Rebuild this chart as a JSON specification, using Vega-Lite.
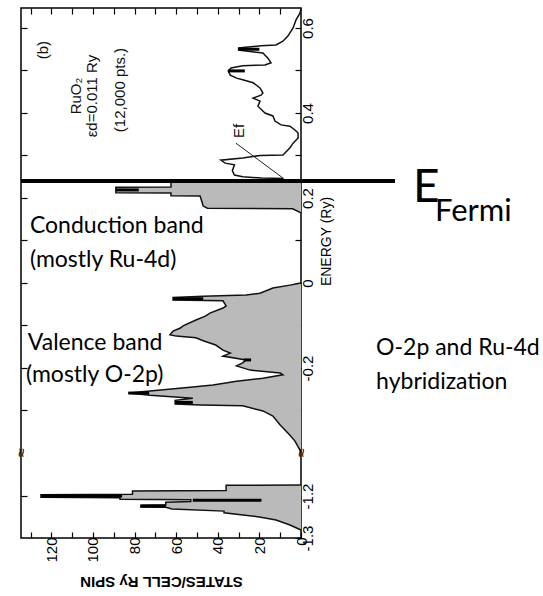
{
  "$schema": "https://vega.github.io/schema/vega-lite/v6.json",
  "width": 280,
  "height": 530,
  "padding": {"left": 13, "top": 5, "right": 0, "bottom": 4},
  "background": "white",
  "config": {"view": {"stroke": "black", "strokeWidth": 1.5}, "font": "Liberation Sans"},
  "datasets": {
    "dos": [
      {"band": "upper", "energy": 0.240, "states": 8.7},
      {"band": "upper", "energy": 0.246, "states": 8.7},
      {"band": "upper", "energy": 0.247, "states": 19},
      {"band": "upper", "energy": 0.250, "states": 28},
      {"band": "upper", "energy": 0.254, "states": 32},
      {"band": "upper", "energy": 0.264, "states": 33},
      {"band": "upper", "energy": 0.278, "states": 32},
      {"band": "upper", "energy": 0.282, "states": 36.5},
      {"band": "upper", "energy": 0.289, "states": 38.5},
      {"band": "upper", "energy": 0.294, "states": 28},
      {"band": "upper", "energy": 0.300, "states": 19.7},
      {"band": "upper", "energy": 0.301, "states": 8.7},
      {"band": "upper", "energy": 0.306, "states": 7.7},
      {"band": "upper", "energy": 0.318, "states": 5.3},
      {"band": "upper", "energy": 0.329, "states": 3.8},
      {"band": "upper", "energy": 0.341, "states": 1.4},
      {"band": "upper", "energy": 0.353, "states": 1.4},
      {"band": "upper", "energy": 0.360, "states": 2.9},
      {"band": "upper", "energy": 0.369, "states": 5.3},
      {"band": "upper", "energy": 0.372, "states": 9.6},
      {"band": "upper", "energy": 0.381, "states": 12.5},
      {"band": "upper", "energy": 0.393, "states": 13.5},
      {"band": "upper", "energy": 0.400, "states": 17.3},
      {"band": "upper", "energy": 0.416, "states": 20.7},
      {"band": "upper", "energy": 0.428, "states": 19.7},
      {"band": "upper", "energy": 0.435, "states": 23},
      {"band": "upper", "energy": 0.442, "states": 19.2},
      {"band": "upper", "energy": 0.447, "states": 18.3},
      {"band": "upper", "energy": 0.459, "states": 19.7},
      {"band": "upper", "energy": 0.471, "states": 23},
      {"band": "upper", "energy": 0.478, "states": 28},
      {"band": "upper", "energy": 0.482, "states": 31},
      {"band": "upper", "energy": 0.489, "states": 34},
      {"band": "upper", "energy": 0.499, "states": 35},
      {"band": "upper", "energy": 0.506, "states": 33.6},
      {"band": "upper", "energy": 0.511, "states": 28},
      {"band": "upper", "energy": 0.513, "states": 17.3},
      {"band": "upper", "energy": 0.518, "states": 14.4},
      {"band": "upper", "energy": 0.529, "states": 15.9},
      {"band": "upper", "energy": 0.541, "states": 18.3},
      {"band": "upper", "energy": 0.548, "states": 30},
      {"band": "upper", "energy": 0.553, "states": 30},
      {"band": "upper", "energy": 0.558, "states": 19.2},
      {"band": "upper", "energy": 0.560, "states": 12},
      {"band": "upper", "energy": 0.569, "states": 8.7},
      {"band": "upper", "energy": 0.581, "states": 6.3},
      {"band": "upper", "energy": 0.600, "states": 3.8},
      {"band": "upper", "energy": 0.619, "states": 2.4},
      {"band": "upper", "energy": 0.635, "states": 0.5},
      {"band": "upper", "energy": 0.645, "states": 0},
      {"band": "conduction", "energy": 0.165, "states": 0},
      {"band": "conduction", "energy": 0.1745, "states": 4},
      {"band": "conduction", "energy": 0.176, "states": 45},
      {"band": "conduction", "energy": 0.181, "states": 47},
      {"band": "conduction", "energy": 0.2045, "states": 48.5},
      {"band": "conduction", "energy": 0.205, "states": 62.5},
      {"band": "conduction", "energy": 0.212, "states": 62.5},
      {"band": "conduction", "energy": 0.2125, "states": 89},
      {"band": "conduction", "energy": 0.2255, "states": 89},
      {"band": "conduction", "energy": 0.226, "states": 62.5},
      {"band": "conduction", "energy": 0.240, "states": 62.5},
      {"band": "valence", "energy": -0.398, "states": 0},
      {"band": "valence", "energy": -0.393, "states": 0.5},
      {"band": "valence", "energy": -0.372, "states": 2.9},
      {"band": "valence", "energy": -0.358, "states": 5.3},
      {"band": "valence", "energy": -0.334, "states": 10},
      {"band": "valence", "energy": -0.313, "states": 13.5},
      {"band": "valence", "energy": -0.301, "states": 18.3},
      {"band": "valence", "energy": -0.289, "states": 28},
      {"band": "valence", "energy": -0.287, "states": 48.5},
      {"band": "valence", "energy": -0.285, "states": 60.5},
      {"band": "valence", "energy": -0.276, "states": 60.5},
      {"band": "valence", "energy": -0.271, "states": 52},
      {"band": "valence", "energy": -0.264, "states": 72.6},
      {"band": "valence", "energy": -0.259, "states": 83},
      {"band": "valence", "energy": -0.254, "states": 72.6},
      {"band": "valence", "energy": -0.245, "states": 52},
      {"band": "valence", "energy": -0.240, "states": 42.3},
      {"band": "valence", "energy": -0.231, "states": 31},
      {"band": "valence", "energy": -0.224, "states": 18.3},
      {"band": "valence", "energy": -0.216, "states": 8.7},
      {"band": "valence", "energy": -0.212, "states": 10},
      {"band": "valence", "energy": -0.205, "states": 24.5},
      {"band": "valence", "energy": -0.195, "states": 31},
      {"band": "valence", "energy": -0.188, "states": 28},
      {"band": "valence", "energy": -0.181, "states": 26.4},
      {"band": "valence", "energy": -0.172, "states": 37.5},
      {"band": "valence", "energy": -0.165, "states": 34},
      {"band": "valence", "energy": -0.158, "states": 37.5},
      {"band": "valence", "energy": -0.146, "states": 41},
      {"band": "valence", "energy": -0.136, "states": 47},
      {"band": "valence", "energy": -0.129, "states": 50.5},
      {"band": "valence", "energy": -0.125, "states": 60},
      {"band": "valence", "energy": -0.122, "states": 63},
      {"band": "valence", "energy": -0.113, "states": 61.5},
      {"band": "valence", "energy": -0.106, "states": 58},
      {"band": "valence", "energy": -0.101, "states": 56.7},
      {"band": "valence", "energy": -0.087, "states": 50.5},
      {"band": "valence", "energy": -0.078, "states": 46},
      {"band": "valence", "energy": -0.071, "states": 43.8},
      {"band": "valence", "energy": -0.059, "states": 37.5},
      {"band": "valence", "energy": -0.054, "states": 36},
      {"band": "valence", "energy": -0.042, "states": 37.5},
      {"band": "valence", "energy": -0.040, "states": 61.5},
      {"band": "valence", "energy": -0.034, "states": 61.5},
      {"band": "valence", "energy": -0.031, "states": 47},
      {"band": "valence", "energy": -0.028, "states": 26.4},
      {"band": "valence", "energy": -0.024, "states": 19.7},
      {"band": "valence", "energy": -0.012, "states": 13.5},
      {"band": "valence", "energy": -0.005, "states": 5.3},
      {"band": "valence", "energy": 0.000, "states": 0},
      {"band": "lower", "energy": -1.281, "states": 0},
      {"band": "lower", "energy": -1.269, "states": 5.3},
      {"band": "lower", "energy": -1.257, "states": 12},
      {"band": "lower", "energy": -1.250, "states": 20},
      {"band": "lower", "energy": -1.240, "states": 37},
      {"band": "lower", "energy": -1.236, "states": 37},
      {"band": "lower", "energy": -1.231, "states": 62},
      {"band": "lower", "energy": -1.227, "states": 65},
      {"band": "lower", "energy": -1.226, "states": 77},
      {"band": "lower", "energy": -1.222, "states": 77},
      {"band": "lower", "energy": -1.221, "states": 65},
      {"band": "lower", "energy": -1.215, "states": 65},
      {"band": "lower", "energy": -1.213, "states": 53},
      {"band": "lower", "energy": -1.209, "states": 53},
      {"band": "lower", "energy": -1.208, "states": 87},
      {"band": "lower", "energy": -1.204, "states": 87},
      {"band": "lower", "energy": -1.203, "states": 125},
      {"band": "lower", "energy": -1.197, "states": 125},
      {"band": "lower", "energy": -1.196, "states": 81},
      {"band": "lower", "energy": -1.188, "states": 81},
      {"band": "lower", "energy": -1.187, "states": 36},
      {"band": "lower", "energy": -1.1745, "states": 36},
      {"band": "lower", "energy": -1.174, "states": 0}
    ],
    "spikes": [
      {"energy": 0.219, "states": 78, "states2": 89},
      {"energy": -0.037, "states": 47, "states2": 61.5},
      {"energy": -0.259, "states": 73, "states2": 83},
      {"energy": -0.281, "states": 52, "states2": 60.5},
      {"energy": -0.181, "states": 24, "states2": 27.5},
      {"energy": -1.200, "states": 86, "states2": 125},
      {"energy": -1.210, "states": 19, "states2": 52},
      {"energy": -1.224, "states": 65, "states2": 77},
      {"energy": 0.499, "states": 27, "states2": 35},
      {"energy": 0.550, "states": 20, "states2": 30}
    ],
    "notes": [
      {"label": "Conduction band", "states": 130.3, "energy": 0.134},
      {"label": "(mostly Ru-4d)", "states": 130.3, "energy": 0.054},
      {"label": "Valence band", "states": 131.3, "energy": -0.141},
      {"label": "(mostly O-2p)", "states": 132.2, "energy": -0.216},
      {"label": "O-2p and Ru-4d", "states": -36.1, "energy": -0.152},
      {"label": "hybridization", "states": -36.1, "energy": -0.233}
    ],
    "figlabels": [
      {"label": "(b)", "states": 124, "energy": 0.548},
      {"label": "RuO₂", "states": 108, "energy": 0.44},
      {"label": "εd=0.011 Ry", "states": 100.5, "energy": 0.44},
      {"label": "(12,000 pts.)", "states": 87, "energy": 0.454},
      {"label": "Ef", "states": 29.8, "energy": 0.358}
    ]
  },
  "encoding": {
    "x": {"field": "states", "type": "quantitative", "scale": {"domain": [0, 134.6], "reverse": true, "nice": false, "zero": false}, "axis": null},
    "y": {"field": "energy", "type": "quantitative", "scale": {"domain": [-1.3, -1.1, -0.4, 0.647], "range": [530, 446, 445, 0], "nice": false, "zero": false}, "axis": null}
  },
  "layer": [
    {
      "data": {"name": "dos"},
      "transform": [{"filter": "datum.band !== 'upper'"}],
      "mark": {"type": "area", "orient": "horizontal", "fill": "#bababa"},
      "encoding": {
        "x": {"field": "states", "type": "quantitative", "stack": null,
          "scale": {"domain": [0, 134.6], "reverse": true, "nice": false, "zero": false},
          "axis": {"orient": "bottom", "values": [0, 10, 20, 30, 40, 50, 60, 70, 80, 90, 100, 110, 120, 130],
            "labelExpr": "datum.value % 20 === 0 ? datum.label : ''",
            "labelAngle": 270, "labelAlign": "right", "labelBaseline": "middle",
            "labelFontSize": 15, "labelColor": "black", "labelPadding": 5,
            "tickSize": -6, "tickColor": "black", "tickWidth": 1.2,
            "domain": false, "grid": false,
            "title": "STATES/CELL Ry SPIN", "titleAngle": 180, "titleBaseline": "bottom",
            "titleFontSize": 15, "titleFontWeight": "bold", "titleColor": "black", "titlePadding": 11}},
        "y": {"field": "energy", "type": "quantitative",
          "scale": {"domain": [-1.3, -1.1, -0.4, 0.647], "range": [530, 446, 445, 0], "nice": false, "zero": false},
          "axis": {"orient": "right", "values": [-1.3, -1.2, -0.3, -0.2, -0.1, 0, 0.1, 0.2, 0.3, 0.4, 0.5, 0.6],
            "labelExpr": "datum.value === 0 ? '0' : (indexof([-1.3, -1.2, -0.2, 0.2, 0.4, 0.6], datum.value) >= 0 ? replace(format(datum.value, '.1f'), '−', '-') : '')",
            "labelAngle": 270, "labelAlign": "center", "labelBaseline": "top",
            "labelFontSize": 15, "labelColor": "black", "labelPadding": 5,
            "tickSize": -6, "tickColor": "black", "tickWidth": 1.2,
            "domain": false, "grid": false,
            "title": "ENERGY (Ry)", "titleAngle": 270, "titleBaseline": "top", "titleY": 233,
            "titleFontSize": 14, "titleFontWeight": "normal", "titleColor": "black", "titlePadding": 4}},
        "detail": {"field": "band"}
      }
    },
    {
      "data": {"name": "dos"},
      "mark": {"type": "line", "color": "#111111", "strokeWidth": 1.5},
      "encoding": {
        "x": {"field": "states", "type": "quantitative",
          "scale": {"domain": [0, 134.6], "reverse": true, "nice": false, "zero": false},
          "axis": {"orient": "top", "values": [10, 20, 30, 40, 50, 60, 70, 80, 90, 100, 110, 120, 130],
            "labels": false, "tickSize": -6, "tickColor": "black", "tickWidth": 1.2, "domain": false, "grid": false, "title": null}},
        "y": {"field": "energy", "type": "quantitative",
          "scale": {"domain": [-1.3, -1.1, -0.4, 0.647], "range": [530, 446, 445, 0], "nice": false, "zero": false},
          "axis": {"orient": "left", "values": [-1.2, -0.3, -0.2, -0.1, 0, 0.1, 0.2, 0.3, 0.4, 0.5, 0.6],
            "labels": false, "tickSize": -6, "tickColor": "black", "tickWidth": 1.2, "domain": false, "grid": false, "title": null}},
        "detail": {"field": "band"},
        "order": {"field": "energy"}
      }
    },
    {
      "data": {"name": "spikes"},
      "mark": {"type": "rule", "color": "black", "strokeWidth": 3},
      "encoding": {"x2": {"field": "states2"}}
    },
    {
      "data": {"values": [{"states": 134.6, "states2": -45.2, "energy": 0.24}]},
      "mark": {"type": "rule", "color": "black", "strokeWidth": 4},
      "encoding": {"x2": {"field": "states2"}}
    },
    {
      "data": {"values": [{"states": 31.3, "energy": 0.329, "states2": 8.7, "energy2": 0.247}]},
      "mark": {"type": "rule", "color": "#222222", "strokeWidth": 1},
      "encoding": {"x2": {"field": "states2"}, "y2": {"field": "energy2"}}
    },
    {
      "data": {"name": "notes"},
      "mark": {"type": "text", "font": "Lato", "fontSize": 23, "align": "left", "baseline": "middle", "color": "black"},
      "encoding": {"text": {"field": "label"}}
    },
    {
      "data": {"values": [{"label": "E", "states": -53.8, "energy": 0.19}]},
      "mark": {"type": "text", "font": "Lato", "fontSize": 46, "align": "left", "baseline": "alphabetic", "color": "black"},
      "encoding": {"text": {"field": "label"}}
    },
    {
      "data": {"values": [{"label": "Fermi", "states": -64.4, "energy": 0.146}]},
      "mark": {"type": "text", "font": "Lato", "fontSize": 31, "align": "left", "baseline": "alphabetic", "color": "black"},
      "encoding": {"text": {"field": "label"}}
    },
    {
      "data": {"name": "figlabels"},
      "mark": {"type": "text", "fontSize": 15, "angle": 270, "align": "center", "baseline": "middle", "color": "#111111"},
      "encoding": {"text": {"field": "label"}}
    },
    {
      "data": {"values": [{"label": "≈", "states": 0, "energy": -0.4}, {"label": "≈", "states": 134.6, "energy": -0.4}]},
      "mark": {"type": "text", "fontSize": 16, "angle": 90, "align": "center", "baseline": "middle", "color": "black"},
      "encoding": {"text": {"field": "label"}}
    }
  ],
  "resolve": {"axis": {"x": "independent", "y": "independent"}}
}
